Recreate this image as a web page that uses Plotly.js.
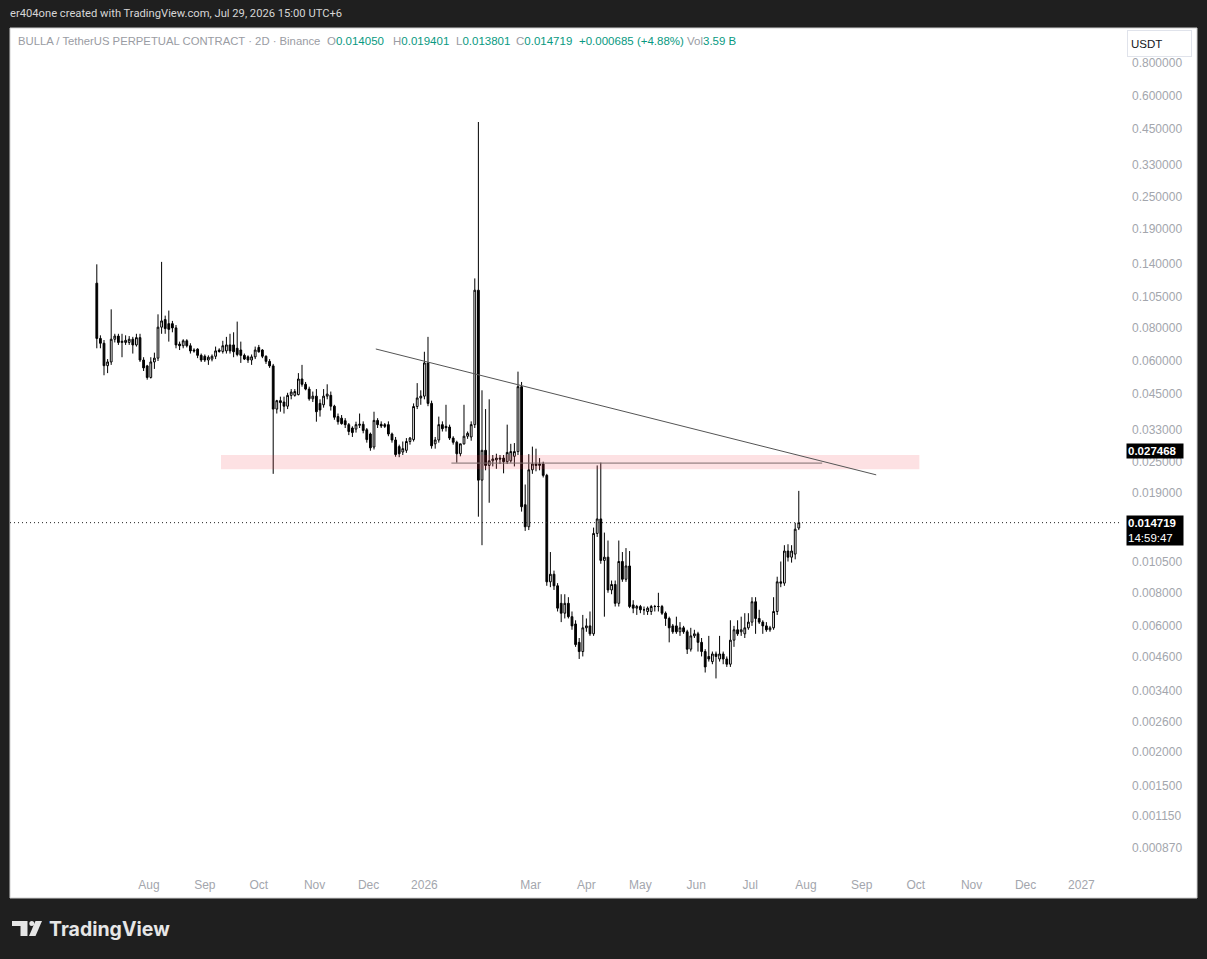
<!DOCTYPE html>
<html>
<head>
<meta charset="utf-8">
<script src="https://cdn.plot.ly/plotly-3.0.1.min.js"></script>
<style>
  body { margin: 0; background: #1f1f1f; }
  #bulla_chart { width: 1207px; height: 959px; }
</style>
</head>
<body>
<div id="bulla_chart"></div>
<script>
/* BULLA / USDT perpetual, 2D candles, log price scale */

var first_bar = Date.UTC(2025, 6, 3);   // first 2D candle
var bar_days = 2;

var open_prices = [
  0.118, 0.073, 0.070, 0.0576, 0.0595, 0.0725, 0.0745, 0.0705, 0.0705, 0.0705,
  0.0725, 0.069, 0.0735, 0.0605, 0.0575, 0.052, 0.0595, 0.0615, 0.0805, 0.086,
  0.083, 0.083, 0.080, 0.0695, 0.0685, 0.0715, 0.0685, 0.066, 0.0665, 0.063,
  0.0625, 0.0605, 0.061, 0.0625, 0.066, 0.0652, 0.0655, 0.069, 0.069, 0.067,
  0.066, 0.063, 0.0622, 0.0605, 0.0622, 0.0675, 0.066, 0.0625, 0.0598, 0.0575,
  0.0395, 0.0425, 0.042, 0.0405, 0.0445, 0.0445, 0.0448, 0.0513, 0.049, 0.047,
  0.0432, 0.0442, 0.0415, 0.041, 0.0442, 0.0445, 0.0405, 0.037, 0.0365, 0.0357,
  0.0345, 0.0335, 0.0332, 0.0343, 0.0346, 0.033, 0.0318, 0.0284, 0.0358, 0.0346,
  0.0345, 0.0345, 0.0318, 0.0302, 0.0285, 0.0272, 0.0276, 0.0298, 0.0303, 0.0404,
  0.0435, 0.0442, 0.059, 0.0415, 0.0292, 0.0302, 0.0345, 0.034, 0.0338, 0.0307,
  0.0296, 0.0268, 0.0292, 0.0312, 0.031, 0.0345, 0.111, 0.0213, 0.0276, 0.0242,
  0.0252, 0.0254, 0.0258, 0.0258, 0.025, 0.0252, 0.0262, 0.0273, 0.048, 0.0172,
  0.0142, 0.0233, 0.0245, 0.0242, 0.0245, 0.0222, 0.0088, 0.0094, 0.0085, 0.0073,
  0.0067, 0.0073, 0.0065, 0.0061, 0.0052, 0.0048, 0.0059, 0.006, 0.0056, 0.0134,
  0.0152, 0.0106, 0.0109, 0.0082, 0.0086, 0.0073, 0.0105, 0.009, 0.0101, 0.0072,
  0.007, 0.0071, 0.0069, 0.0068, 0.0068, 0.0071, 0.0071, 0.0071, 0.0067, 0.0064,
  0.006, 0.006, 0.0057, 0.0059, 0.0057, 0.0049, 0.0055, 0.0056, 0.0052, 0.0048,
  0.0046, 0.0044, 0.0047, 0.0045, 0.0047, 0.0045, 0.0043, 0.0053, 0.0058, 0.0057,
  0.0056, 0.0059, 0.0062, 0.0074, 0.0064, 0.0062, 0.006, 0.0058, 0.0059, 0.0068,
  0.0088, 0.0087, 0.0115, 0.0109, 0.0112, 0.01405
];
var high_prices = [
  0.139, 0.075, 0.072, 0.061, 0.094, 0.076, 0.076, 0.076, 0.075, 0.0745,
  0.074, 0.076, 0.076, 0.062, 0.058, 0.062, 0.0645, 0.090, 0.142, 0.089,
  0.093, 0.085, 0.082, 0.071, 0.0725, 0.0725, 0.070, 0.067, 0.067, 0.064,
  0.0635, 0.063, 0.0635, 0.068, 0.067, 0.0715, 0.074, 0.076, 0.077, 0.0845,
  0.071, 0.064, 0.063, 0.0635, 0.068, 0.069, 0.0665, 0.063, 0.061, 0.0585,
  0.0428, 0.044, 0.044, 0.0455, 0.047, 0.047, 0.054, 0.058, 0.050, 0.048,
  0.046, 0.047, 0.043, 0.047, 0.049, 0.046, 0.041, 0.038, 0.0375, 0.0365,
  0.035, 0.034, 0.0354, 0.038, 0.0355, 0.0335, 0.0322, 0.0386, 0.0365, 0.0355,
  0.035, 0.0355, 0.0322, 0.031, 0.029, 0.0298, 0.0307, 0.031, 0.0415, 0.0495,
  0.0465, 0.065, 0.074, 0.0425, 0.031, 0.037, 0.0355, 0.041, 0.0345, 0.0312,
  0.030, 0.029, 0.041, 0.0325, 0.0355, 0.123, 0.479, 0.0465, 0.0395, 0.043,
  0.0265, 0.0268, 0.0265, 0.0265, 0.0345, 0.0292, 0.0294, 0.0547, 0.050, 0.0205,
  0.0267, 0.0285, 0.028, 0.0258, 0.025, 0.0225, 0.0114, 0.0097, 0.0087, 0.0079,
  0.0079, 0.0077, 0.0068, 0.0063, 0.0054, 0.0066, 0.0064, 0.0068, 0.0141, 0.0242,
  0.0248, 0.0135, 0.0126, 0.0089, 0.0089, 0.0126, 0.0114, 0.0118, 0.0115, 0.0075,
  0.0072, 0.0072, 0.0071, 0.0071, 0.0072, 0.0072, 0.008, 0.0072, 0.0068, 0.0065,
  0.0061, 0.0065, 0.0062, 0.006, 0.0058, 0.0059, 0.0058, 0.0057, 0.0054, 0.0049,
  0.0055, 0.0048, 0.0048, 0.0055, 0.0048, 0.0046, 0.0063, 0.006, 0.0063, 0.0065,
  0.0067, 0.0067, 0.0077, 0.0077, 0.0069, 0.0063, 0.0062, 0.006, 0.0077, 0.0092,
  0.0105, 0.0121, 0.0122, 0.0121, 0.0147, 0.019401
];
var low_prices = [
  0.067, 0.067, 0.053, 0.054, 0.058, 0.0705, 0.069, 0.062, 0.069, 0.069,
  0.064, 0.068, 0.0595, 0.055, 0.051, 0.0515, 0.056, 0.060, 0.076, 0.076,
  0.071, 0.077, 0.067, 0.066, 0.067, 0.0675, 0.064, 0.0645, 0.0615, 0.0595,
  0.0595, 0.058, 0.0598, 0.061, 0.0645, 0.064, 0.064, 0.064, 0.062, 0.0625,
  0.059, 0.0605, 0.059, 0.058, 0.061, 0.0645, 0.0615, 0.0585, 0.0565, 0.0225,
  0.038, 0.0386, 0.038, 0.0395, 0.043, 0.044, 0.0445, 0.048, 0.0465, 0.0425,
  0.042, 0.0354, 0.037, 0.040, 0.043, 0.039, 0.036, 0.0345, 0.0345, 0.0335,
  0.0315, 0.031, 0.0322, 0.0335, 0.032, 0.0295, 0.0275, 0.0278, 0.0335, 0.0335,
  0.0335, 0.0312, 0.0295, 0.0261, 0.026, 0.0265, 0.027, 0.029, 0.0298, 0.0395,
  0.041, 0.043, 0.0405, 0.028, 0.028, 0.0295, 0.0325, 0.0325, 0.0302, 0.029,
  0.0248, 0.0262, 0.029, 0.0305, 0.030, 0.0335, 0.0155, 0.0121, 0.0232, 0.0175,
  0.024, 0.0235, 0.0245, 0.0226, 0.0245, 0.0248, 0.024, 0.0265, 0.0162, 0.0137,
  0.0138, 0.0225, 0.023, 0.0232, 0.0218, 0.0085, 0.0084, 0.0082, 0.0068, 0.0062,
  0.0064, 0.0064, 0.0058, 0.005, 0.0045, 0.0046, 0.0057, 0.0055, 0.0055, 0.013,
  0.0103, 0.0065, 0.008, 0.0079, 0.0071, 0.0071, 0.0088, 0.0088, 0.007, 0.0067,
  0.0066, 0.0067, 0.0066, 0.0066, 0.0066, 0.0068, 0.0068, 0.0066, 0.006, 0.0052,
  0.0056, 0.0056, 0.0055, 0.0056, 0.0047, 0.0048, 0.0054, 0.0048, 0.0046, 0.004,
  0.0044, 0.0043, 0.0038, 0.0044, 0.0043, 0.0042, 0.0042, 0.005, 0.0055, 0.0055,
  0.0054, 0.0058, 0.006, 0.0056, 0.0061, 0.0056, 0.0057, 0.0057, 0.0058, 0.0066,
  0.0084, 0.0085, 0.0105, 0.0104, 0.0107, 0.013801
];
var close_prices = [
  0.073, 0.070, 0.0576, 0.0595, 0.0725, 0.0745, 0.0705, 0.0712, 0.0718, 0.0725,
  0.069, 0.0735, 0.0605, 0.0565, 0.052, 0.0595, 0.0615, 0.0805, 0.085, 0.0795,
  0.079, 0.080, 0.069, 0.0685, 0.0715, 0.0685, 0.0655, 0.0655, 0.063, 0.0605,
  0.0605, 0.062, 0.0625, 0.0655, 0.0652, 0.0685, 0.069, 0.0655, 0.065, 0.0635,
  0.063, 0.061, 0.0605, 0.0622, 0.066, 0.065, 0.0625, 0.0598, 0.0575, 0.0395,
  0.0425, 0.0418, 0.0405, 0.0445, 0.0458, 0.046, 0.0513, 0.049, 0.047, 0.0432,
  0.0442, 0.0386, 0.0392, 0.0442, 0.045, 0.0405, 0.0368, 0.0354, 0.0348, 0.0345,
  0.0325, 0.0322, 0.0345, 0.0346, 0.0328, 0.0303, 0.0282, 0.0358, 0.0345, 0.0341,
  0.034, 0.0318, 0.0302, 0.0266, 0.0268, 0.028, 0.0298, 0.0307, 0.0404, 0.0435,
  0.0442, 0.059, 0.0415, 0.0287, 0.0302, 0.0345, 0.0333, 0.0336, 0.0307, 0.0296,
  0.0268, 0.0292, 0.0312, 0.032, 0.0345, 0.111, 0.0213, 0.0276, 0.0242, 0.0252,
  0.0256, 0.0258, 0.0256, 0.025, 0.0271, 0.0273, 0.0273, 0.048, 0.0169, 0.0142,
  0.0233, 0.0245, 0.0242, 0.0245, 0.0222, 0.0088, 0.0094, 0.0085, 0.007, 0.0067,
  0.0073, 0.0065, 0.006, 0.0051, 0.0048, 0.0059, 0.006, 0.0056, 0.0134, 0.0152,
  0.0106, 0.0109, 0.0082, 0.0086, 0.0073, 0.0105, 0.009, 0.0101, 0.0071, 0.007,
  0.0071, 0.0069, 0.0069, 0.007, 0.0071, 0.0071, 0.0071, 0.0067, 0.0064, 0.0059,
  0.0057, 0.0057, 0.0059, 0.0057, 0.0049, 0.0055, 0.0056, 0.0052, 0.0048, 0.0042,
  0.0045, 0.0047, 0.0046, 0.0047, 0.0045, 0.0043, 0.0053, 0.0058, 0.0056, 0.0058,
  0.0059, 0.0062, 0.0074, 0.0064, 0.0062, 0.006, 0.0058, 0.0059, 0.0068, 0.0088,
  0.0087, 0.0115, 0.0109, 0.0115, 0.0139, 0.014719
];

// price scale labels and month labels on the time scale
var price_ticks = [0.8, 0.6, 0.45, 0.33, 0.25, 0.19, 0.14, 0.105, 0.08, 0.06, 0.045,
                   0.033, 0.025, 0.019, 0.0105, 0.008, 0.006, 0.0046, 0.0034, 0.0026,
                   0.002, 0.0015, 0.00115, 0.00087];
var month_ticks = ['2025-08-01', '2025-09-01', '2025-10-01', '2025-11-01', '2025-12-01',
                   '2026-01-01', '2026-03-01', '2026-04-01', '2026-05-01', '2026-06-01',
                   '2026-07-01', '2026-08-01', '2026-09-01', '2026-10-01', '2026-11-01',
                   '2026-12-01', '2027-01-01'];
var month_labels = ['Aug', 'Sep', 'Oct', 'Nov', 'Dec', '2026', 'Mar', 'Apr', 'May', 'Jun',
                    'Jul', 'Aug', 'Sep', 'Oct', 'Nov', 'Dec', '2027'];
var time_range = ['2025-05-15 18:43', '2027-01-23 13:26'];

// drawings on the chart
var trend_dates = ['2025-12-05', '2026-09-09'];
var trend_prices = [0.0666, 0.0223];
var zone_dates = ['2025-09-10', '2026-10-03'];
var zone_prices = [0.0234, 0.0265];
var level_dates = ['2026-01-16', '2026-08-10'];
var level_price = 0.0247;
var zone_label = 0.027468;
var last_price = 0.014719;

var bar_dates = [];
for (var i = 0; i < open_prices.length; i++) {
    bar_dates.push(new Date(first_bar + i * bar_days * 86400000).toISOString().slice(0, 10));
}

// page pixel -> paper fraction (plot area is x 10..1122, y 28..870)
function px(x) { return (x - 10) / 1112; }
function py(y) { return (870 - y) / 842; }
function pt(x, y) { return px(x) + ',' + py(y); }
function lg(v) { return Math.log10(v); }

var green = '#089981';
var grey = '#9a9ca3';

var zone = {
    type: 'scatter', mode: 'lines',
    x: [zone_dates[0], zone_dates[1], zone_dates[1], zone_dates[0], zone_dates[0]],
    y: [zone_prices[0], zone_prices[0], zone_prices[1], zone_prices[1], zone_prices[0]],
    fill: 'toself', fillcolor: 'rgba(242,54,69,0.15)', line: { width: 0 },
    hoverinfo: 'skip', showlegend: false
};

var level = {
    type: 'scatter', mode: 'lines',
    x: level_dates, y: [level_price, level_price],
    line: { color: '#7d6c6c', width: 1 },
    hoverinfo: 'skip', showlegend: false
};

var candles = {
    type: 'candlestick',
    x: bar_dates,
    open: open_prices,
    high: high_prices,
    low: low_prices,
    close: close_prices,
    increasing: { line: { color: '#000000', width: 1 }, fillcolor: '#ffffff' },
    decreasing: { line: { color: '#000000', width: 1 }, fillcolor: '#000000' },
    whiskerwidth: 0,
    hoverinfo: 'skip',
    showlegend: false
};

var trend = {
    type: 'scatter', mode: 'lines',
    x: trend_dates, y: trend_prices,
    line: { color: '#555555', width: 1 },
    hoverinfo: 'skip', showlegend: false
};

var last_line = {
    type: 'scatter', mode: 'lines',
    x: time_range, y: [last_price, last_price],
    line: { color: '#222222', width: 1, dash: '1px,3px' },
    hoverinfo: 'skip', showlegend: false
};

var shapes = [
    // white chart panel
    { type: 'rect', xref: 'paper', yref: 'paper', x0: px(10), x1: px(1197), y0: py(898), y1: py(28),
      fillcolor: '#ffffff', line: { color: '#cfcfcf', width: 1 }, layer: 'below' },
    // TradingView logo
    { type: 'path', xref: 'paper', yref: 'paper', line: { width: 0 }, fillcolor: '#e6e6e6',
      path: 'M' + pt(12, 921) + ' L' + pt(27.5, 921) + ' L' + pt(27.5, 936) + ' L' + pt(20.5, 936) +
            ' L' + pt(20.5, 926) + ' L' + pt(12, 926) + ' Z' },
    { type: 'circle', xref: 'paper', yref: 'paper', x0: px(29.3), x1: px(34.3), y0: py(926), y1: py(921),
      fillcolor: '#e6e6e6', line: { width: 0 } },
    { type: 'path', xref: 'paper', yref: 'paper', line: { width: 0 }, fillcolor: '#e6e6e6',
      path: 'M' + pt(35.5, 921) + ' L' + pt(42, 921) + ' L' + pt(35.5, 936) + ' L' + pt(29, 936) + ' Z' }
];

function txt(x, y, text, size, color, extra) {
    var a = { xref: 'paper', yref: 'paper', x: px(x), y: py(y), xanchor: 'left', yanchor: 'middle',
              text: text, showarrow: false, font: { size: size, color: color } };
    for (var k in extra) a[k] = extra[k];
    return a;
}
function ohlc(letter, value) {
    return letter + '<span style="color:' + green + '">' + value + '</span>';
}

var annotations = [
    txt(8, 13, 'er404one created with TradingView.com, Jul 29, 2026 15:00 UTC+6', 11,
        '#d6d6d6', { font: { size: 11.2, color: '#d6d6d6', family: 'Roboto, sans-serif' } }),
    txt(16, 41, 'BULLA / TetherUS PERPETUAL CONTRACT · 2D · Binance', 11.3, grey),
    txt(325, 41, ohlc('O', '0.014050'), 11.5, grey),
    txt(391, 41, ohlc('H', '0.019401'), 11.5, grey),
    txt(454, 41, ohlc('L', '0.013801'), 11.5, grey),
    txt(514, 41, ohlc('C', '0.014719'), 11.5, grey),
    txt(577, 41, '+0.000685 (+4.88%)', 11.5, green),
    txt(685, 41, ohlc('Vol', '3.59 B'), 11.5, grey),
    txt(1127, 44, 'USDT', 11.5, '#131722',
        { bgcolor: '#ffffff', bordercolor: '#e0e3eb', borderwidth: 1, borderpad: 3,
          width: 57, height: 19, align: 'left' }),
    { xref: 'paper', yref: 'y', x: px(1126), y: lg(zone_label), xanchor: 'left', yanchor: 'middle',
      text: '<b>' + zone_label.toFixed(6) + '</b>', showarrow: false, bgcolor: '#000000',
      borderpad: 1, width: 54, align: 'left', font: { size: 11.5, color: '#ffffff' } },
    { xref: 'paper', yref: 'y', x: px(1126), y: lg(last_price), xanchor: 'left', yanchor: 'top',
      yshift: 8, text: '<b>' + last_price.toFixed(6) + '</b><br>14:59:47', showarrow: false,
      bgcolor: '#000000', borderpad: 1, width: 54, align: 'left',
      font: { size: 11.5, color: '#ffffff' } },
    txt(47, 929, '<b>TradingView</b>', 19.5, '#e6e6e6',
        { font: { size: 19.5, color: '#e6e6e6', family: 'Inter, sans-serif' } })
];

var layout = {
    width: 1207,
    height: 959,
    margin: { l: 10, r: 85, t: 28, b: 89 },
    paper_bgcolor: '#1f1f1f',
    plot_bgcolor: 'rgba(0,0,0,0)',
    font: { family: 'Liberation Sans, Arial, sans-serif', size: 12, color: '#a3a6ad' },
    hovermode: false,
    showlegend: false,
    xaxis: {
        type: 'date',
        range: time_range,
        tickvals: month_ticks,
        ticktext: month_labels,
        showgrid: false, zeroline: false, showline: false,
        ticks: '', ticklabelstandoff: 6,
        tickfont: { size: 12, color: '#a3a6ad' },
        rangeslider: { visible: false },
        fixedrange: true
    },
    yaxis: {
        type: 'log',
        side: 'right',
        range: [-3.1434, 0.0352],
        tickvals: price_ticks,
        ticktext: price_ticks.map(function (v) { return v.toFixed(6); }),
        showgrid: false, zeroline: false, showline: false,
        ticks: '', ticklabelstandoff: 9,
        tickfont: { size: 12, color: '#a3a6ad' },
        fixedrange: true
    },
    shapes: shapes,
    annotations: annotations
};

Plotly.newPlot('bulla_chart', [zone, level, candles, trend, last_line], layout,
               { displayModeBar: false, staticPlot: true });
</script>
</body>
</html>
